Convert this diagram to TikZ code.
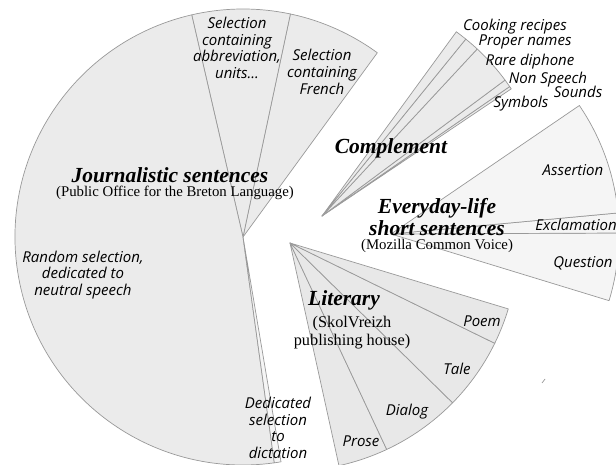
\documentclass[tikz,border=0pt]{standalone}
\usepackage{fontspec}
\setmainfont{Liberation Serif}
\setsansfont{Open Sans}
\begin{document}
\begin{tikzpicture}[x=1pt, y=1pt]
\tikzset{
  slice/.style={draw=black!40, line width=0.7pt, line join=round},
  part/.style={font=\sffamily\itshape\fontsize{15}{16.7}\selectfont, align=center, inner sep=0pt},
  title/.style={font=\bfseries\itshape\fontsize{21.5}{22}\selectfont, align=center, inner sep=0pt, text depth=1pt},
  source/.style={font=\fontsize{14.8}{17}\selectfont, align=center, inner sep=0pt, text height=9pt, text depth=3pt}
}
\useasboundingbox (0,0) rectangle (616,464);

  \def\r{228}

 %journalistic
 \coordinate (J) at (243,227);
    \foreach \a/\b/\col in {53.9/78/black!8, 78/103/black!8, 103/277.9/black!8, 277.9/279.6/black!4}{
        \filldraw[slice, fill=\col] (J) -- ++(\a:\r) arc[start angle=\a, end angle=\b, radius=\r] -- cycle;
    }

 %complement
 \coordinate (C) at (322,248);
    \foreach \a/\b in {33.9/34.6, 34.6/36.6, 36.6/47.1, 47.1/50.9, 50.9/53.9}{
        \filldraw[slice, fill=black!8] (C) -- ++(\a:\r) arc[start angle=\a, end angle=\b, radius=\r] -- cycle;
    }

 %everyday
 \coordinate (E) at (391,230);
    \foreach \a/\b in {-17/0.25, 0.25/5.3, 5.3/34.3}{
        \filldraw[slice, fill=black!4] (E) -- ++(\a:\r) arc[start angle=\a, end angle=\b, radius=\r] -- cycle;
    }

 %literary
 \coordinate (L) at (290,221);
    \foreach \a/\b in {-77.6/-64.9, -64.9/-44.5, -44.5/-26.1, -26.1/-16.8}{
        \filldraw[slice, fill=black!9] (L) -- ++(\a:\r) arc[start angle=\a, end angle=\b, radius=\r] -- cycle;
    }

 \draw[slice] (542,81) -- (545,85);

 %labels
    \node[title] (journ) at (170,288.5) {Journalistic sentences};
    \node[source] (journsrc) at (175,270) {(Public Office for the Breton Language)};
    \node[title] (compl) at (391,317) {Complement};
    \node[title] (everyday) at (437,247) {Everyday-life\\short sentences};
    \node[source] (mozilla) at (437,217) {(Mozilla Common Voice)};
    \node[title] (literary) at (344,165) {Literary};
    \node[align=center, inner sep=0pt, font=\fontsize{16.3}{17.5}\selectfont] (skol) at (352,131.5) {(SkolVreizh\\publishing house)};

    \foreach \x/\y/\txt/\name in {83/189/{Random selection,\\dedicated to\\neutral speech}/random,
          237/416/{Selection\\containing\\abbreviation,\\units...}/abbrev,
          322/392/{Selection\\containing\\French}/french,
          278/36/{Dedicated\\selection\\to\\dictation}/dictation,
          515/437/{Cooking recipes}/cooking, 525/422/{Proper names}/proper,
          530/402/{Rare diphone}/rare, 548/384.5/{Non Speech}/nonspeech,
          578/372/{Sounds}/sounds, 521/360/{Symbols}/symbols,
          573/294/{Assertion}/assertion, 576/239/{Exclamation}/exclam,
          583/201/{Question}/question,
          482/143/{Poem}/poem, 457/95/{Tale}/tale, 407/52/{Dialog}/dialog, 361/23/{Prose}/prose}{
        \node[part] (\name) at (\x,\y) {\txt};
    }

\end{tikzpicture}
\end{document}
